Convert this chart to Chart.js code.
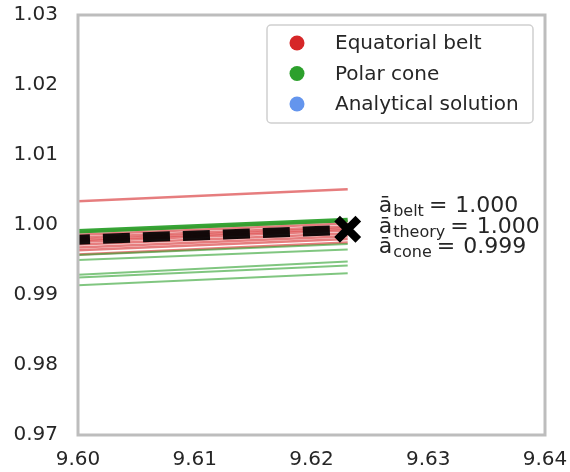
<!DOCTYPE html>
<html>
<head>
<meta charset="utf-8">
<script src="https://cdn.jsdelivr.net/npm/chart.js@4.4.0/dist/chart.umd.min.js"></script>
<style>
  html, body { margin: 0; padding: 0; background: #fff; }
  #wrap { width: 570px; height: 472px; }
</style>
</head>
<body>
<div id="wrap"><canvas id="myChart" width="570" height="472"></canvas></div>
<script>
// x positions where every run starts / stops
const lineX = [9.600, 9.6231];

// equatorial belt runs (value at start, value at end)
const beltStart = [1.0034, 0.9990, 0.9986, 0.9982, 0.9979, 0.9976, 0.9972, 0.9968, 0.9964, 0.9958];
const beltEnd   = [1.0051, 1.0006, 1.0002, 0.9998, 0.9995, 0.9992, 0.9988, 0.9984, 0.9980, 0.9975];

// polar cone runs
const coneStart = [0.9991, 0.9957, 0.9950, 0.9929, 0.9925, 0.9914];
const coneEnd   = [1.0007, 0.9973, 0.9965, 0.9948, 0.9942, 0.9931];

// mean line and final point
const meanStart = 0.9979;
const meanEnd = 0.9993;
const finalPoint = { x: 9.6231, y: 0.9994 };

const legendLabels = ['Equatorial belt', 'Polar cone', 'Analytical solution'];
const legendColors = ['#d62728', '#2ca02c', '#6495ed'];

const annotSubs = ['belt', 'theory', 'cone'];
const annotValues = ['1.000', '1.000', '0.999'];

const xTicks = [9.60, 9.61, 9.62, 9.63, 9.64];
const yTicks = [0.97, 0.98, 0.99, 1.00, 1.01, 1.02, 1.03];

const FONT = "'DejaVu Sans', sans-serif";

function runData(a, b) {
    return [{ x: lineX[0], y: a }, { x: lineX[1], y: b }];
}

const datasets = [];
datasets.push({
    data: [finalPoint],
    showLine: false,
    pointStyle: 'crossRot',
    pointRadius: 15,
    borderColor: '#000',
    borderWidth: 8,
    order: 0
});
coneStart.forEach(function (v, i) {
    datasets.push({
        data: runData(v, coneEnd[i]),
        showLine: true,
        pointRadius: 0,
        borderColor: i === 0 ? 'rgba(44,160,44,0.95)' : 'rgba(44,160,44,0.6)',
        borderWidth: i === 0 ? 4.5 : 2,
        order: 1
    });
});
datasets.push({
    data: runData(meanStart, meanEnd),
    showLine: true,
    pointRadius: 0,
    borderColor: 'rgba(0,0,0,0.92)',
    borderWidth: 10,
    borderDash: [27, 13],
    borderDashOffset: 15,
    borderCapStyle: 'butt',
    order: 2
});
beltStart.forEach(function (v, i) {
    datasets.push({
        data: runData(v, beltEnd[i]),
        showLine: true,
        pointRadius: 0,
        borderColor: 'rgba(214,39,40,0.6)',
        borderWidth: 2.5,
        order: 3
    });
});

const framePlugin = {
    id: 'frame',
    afterDatasetsDraw(chart) {
        const ctx = chart.ctx;
        const a = chart.chartArea;
        const xs = chart.scales.x, ys = chart.scales.y;
        ctx.save();

        // annotation next to the final marker
        const px = xs.getPixelForValue(finalPoint.x);
        const py = ys.getPixelForValue(finalPoint.y);
        ctx.fillStyle = '#262626';
        ctx.textBaseline = 'alphabetic';
        ctx.textAlign = 'left';
        annotSubs.forEach(function (s, i) {
            const bx = px + 31;
            const by = py - 17 + i * 20.5;
            ctx.font = '22px ' + FONT;
            ctx.fillText('\u0101', bx, by);
            const sx = bx + ctx.measureText('\u0101').width + 1;
            ctx.font = '16px ' + FONT;
            ctx.fillText(s, sx, by + 4);
            const ex = sx + ctx.measureText(s).width + 5;
            ctx.font = '22px ' + FONT;
            ctx.fillText('=', ex, by);
            ctx.fillText(annotValues[i], ex + ctx.measureText('=').width + 8, by);
        });

        // legend box
        const lx = 267, ly = 25, lw = 266, lh = 98;
        ctx.beginPath();
        ctx.roundRect(lx, ly, lw, lh, 4);
        ctx.fillStyle = 'rgba(255,255,255,0.85)';
        ctx.fill();
        ctx.strokeStyle = '#d0d0d0';
        ctx.lineWidth = 1.5;
        ctx.stroke();
        ctx.font = '20px ' + FONT;
        ctx.textBaseline = 'middle';
        legendLabels.forEach(function (t, i) {
            const cy = ly + 18 + i * 30.5;
            ctx.beginPath();
            ctx.arc(lx + 30, cy, 7.5, 0, Math.PI * 2);
            ctx.fillStyle = legendColors[i];
            ctx.fill();
            ctx.fillStyle = '#262626';
            ctx.fillText(t, lx + 68, cy + 1);
        });

        // axes frame
        ctx.strokeStyle = '#bdbdbd';
        ctx.lineWidth = 3;
        ctx.strokeRect(a.left, a.top, a.right - a.left, a.bottom - a.top);
        ctx.restore();
    }
};

const ctx = document.getElementById('myChart').getContext('2d');
const myChart = new Chart(ctx, {
    type: 'scatter',
    data: { datasets: datasets },
    options: {
        responsive: false,
        animation: false,
        layout: { padding: 0, autoPadding: false },
        plugins: {
            legend: { display: false },
            tooltip: { enabled: false }
        },
        scales: {
            x: {
                type: 'linear',
                min: xTicks[0],
                max: xTicks[xTicks.length - 1],
                afterBuildTicks: function (scale) {
                    scale.ticks = xTicks.map(function (v) { return { value: v }; });
                },
                afterFit: function (scale) {
                    scale.height = 37;
                    scale.paddingLeft = 0;
                    scale.paddingRight = 25;
                },
                grid: { display: false, drawTicks: false },
                border: { display: false },
                ticks: {
                    padding: 13,
                    color: '#262626',
                    font: { family: FONT, size: 20 },
                    maxRotation: 0,
                    callback: function (v) { return Number(v).toFixed(2); }
                }
            },
            y: {
                type: 'linear',
                min: yTicks[0],
                max: yTicks[yTicks.length - 1],
                afterBuildTicks: function (scale) {
                    scale.ticks = yTicks.map(function (v) { return { value: v }; });
                },
                afterFit: function (scale) {
                    scale.width = 78;
                    scale.paddingTop = 15;
                    scale.paddingBottom = 0;
                },
                grid: { display: false, drawTicks: false },
                border: { display: false },
                ticks: {
                    padding: 20,
                    color: '#262626',
                    font: { family: FONT, size: 20 },
                    callback: function (v) { return Number(v).toFixed(2); }
                }
            }
        }
    },
    plugins: [framePlugin]
});
</script>
</body>
</html>
